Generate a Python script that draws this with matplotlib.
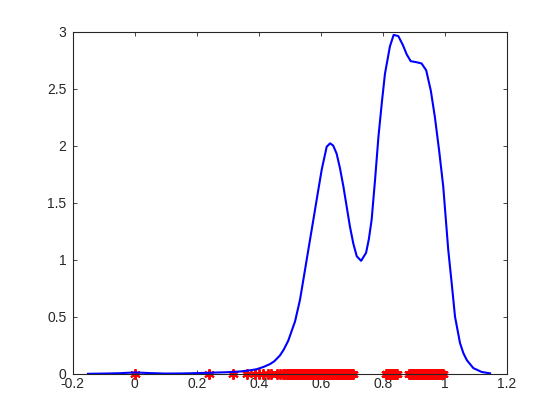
import matplotlib
matplotlib.use("Agg")
import matplotlib.pyplot as plt

# density curve
curve_x = [-0.151, -0.10, -0.05, 0.0, 0.05, 0.10, 0.15, 0.20, 0.25, 0.30, 0.339, 0.37,
           0.393, 0.415, 0.436, 0.45, 0.468, 0.48, 0.495, 0.517, 0.533, 0.549, 0.56,
           0.576, 0.590, 0.603, 0.619, 0.63, 0.640, 0.651, 0.662, 0.673, 0.694, 0.705,
           0.716, 0.730, 0.746, 0.755, 0.764, 0.775, 0.786, 0.797, 0.807, 0.823, 0.835,
           0.850, 0.865, 0.877, 0.89, 0.91, 0.925, 0.94, 0.955, 0.968, 0.982, 0.995,
           1.011, 1.022, 1.033, 1.049, 1.060, 1.071, 1.092, 1.119, 1.146]
curve_y = [0.0, 0.002, 0.005, 0.012, 0.006, 0.002, 0.003, 0.006, 0.010, 0.014, 0.02, 0.03,
           0.04, 0.06, 0.085, 0.11, 0.16, 0.21, 0.29, 0.46, 0.65, 0.91, 1.09,
           1.35, 1.58, 1.79, 1.99, 2.02, 2.00, 1.93, 1.80, 1.64, 1.29, 1.14,
           1.03, 0.99, 1.06, 1.18, 1.35, 1.70, 2.08, 2.38, 2.63, 2.87, 2.97,
           2.96, 2.88, 2.80, 2.74, 2.73, 2.72, 2.66, 2.48, 2.25, 1.95, 1.64,
           1.09, 0.80, 0.50, 0.27, 0.18, 0.12, 0.05, 0.016, 0.004]

# sample points (red asterisks on the x axis)
samples = [0.0, 0.24, 0.316, 0.361, 0.388, 0.40, 0.415, 0.429, 0.44, 0.458, 0.468, 0.479,
           0.485, 0.49, 0.494, 0.497, 0.501, 0.503, 0.506, 0.508, 0.511, 0.514, 0.517,
           0.52, 0.523, 0.526, 0.529, 0.531, 0.534, 0.537, 0.54, 0.543, 0.546,
           0.548, 0.551, 0.553, 0.556, 0.559, 0.562, 0.565, 0.568, 0.57, 0.573, 0.576,
           0.579, 0.581, 0.584, 0.587, 0.59, 0.592, 0.595, 0.598, 0.601, 0.604, 0.607,
           0.609, 0.612, 0.615, 0.618, 0.62, 0.623, 0.626, 0.629, 0.632, 0.635, 0.637,
           0.64, 0.643, 0.646, 0.648, 0.651, 0.654, 0.657, 0.66, 0.663, 0.665, 0.668,
           0.671, 0.674, 0.676, 0.679, 0.682, 0.685, 0.688, 0.691, 0.693, 0.696, 0.699,
           0.702, 0.704,
           0.81, 0.813, 0.815, 0.818, 0.82, 0.823, 0.826, 0.828, 0.831, 0.834, 0.836,
           0.839, 0.841, 0.844, 0.846,
           0.885, 0.888, 0.89, 0.893, 0.896, 0.899, 0.901, 0.904, 0.907, 0.91, 0.912,
           0.915, 0.918, 0.921, 0.923, 0.926, 0.929, 0.932, 0.934, 0.937, 0.94, 0.943,
           0.945, 0.948, 0.951, 0.954, 0.956, 0.959, 0.962, 0.965, 0.967, 0.97, 0.973,
           0.976, 0.978, 0.981, 0.984, 0.987, 0.989, 0.992, 0.995]
sample_y = [0.0] * len(samples)

xticks = [-0.2, 0.0, 0.2, 0.4, 0.6, 0.8, 1.0, 1.2]
xtick_labels = ["-0.2", "0", "0.2", "0.4", "0.6", "0.8", "1", "1.2"]
yticks = [0, 0.5, 1, 1.5, 2, 2.5, 3]
ytick_labels = ["0", "0.5", "1", "1.5", "2", "2.5", "3"]

plt.rcParams['font.family'] = ['Liberation Sans', 'DejaVu Sans']

fig = plt.figure(figsize=(5.6, 4.2), dpi=100)
fig.patch.set_facecolor('white')
ax = fig.add_axes([0.13, 0.11, 0.775, 0.815])

ax.plot(samples, sample_y, linestyle='none', marker=(6, 2, 0), color='red',
        markersize=7.5, markeredgewidth=1.4, zorder=2, clip_on=False)
ax.plot(curve_x, curve_y, color=(0, 0, 1), linewidth=1.5, zorder=3)

ax.set_xlim(-0.2, 1.2)
ax.set_ylim(0, 3)
ax.set_xticks(xticks)
ax.set_xticklabels(xtick_labels)
ax.set_yticks(yticks)
ax.set_yticklabels(ytick_labels)

axcol = (0.15, 0.15, 0.15)
for s in ax.spines.values():
    s.set_color(axcol)
    s.set_linewidth(0.8)
ax.tick_params(direction='in', length=3.2, width=0.6, colors=axcol,
               top=True, right=True, labelsize=10)
ax.tick_params(axis='x', pad=2)
ax.tick_params(axis='y', pad=4.5)

fig.savefig("out.png", dpi=100)
